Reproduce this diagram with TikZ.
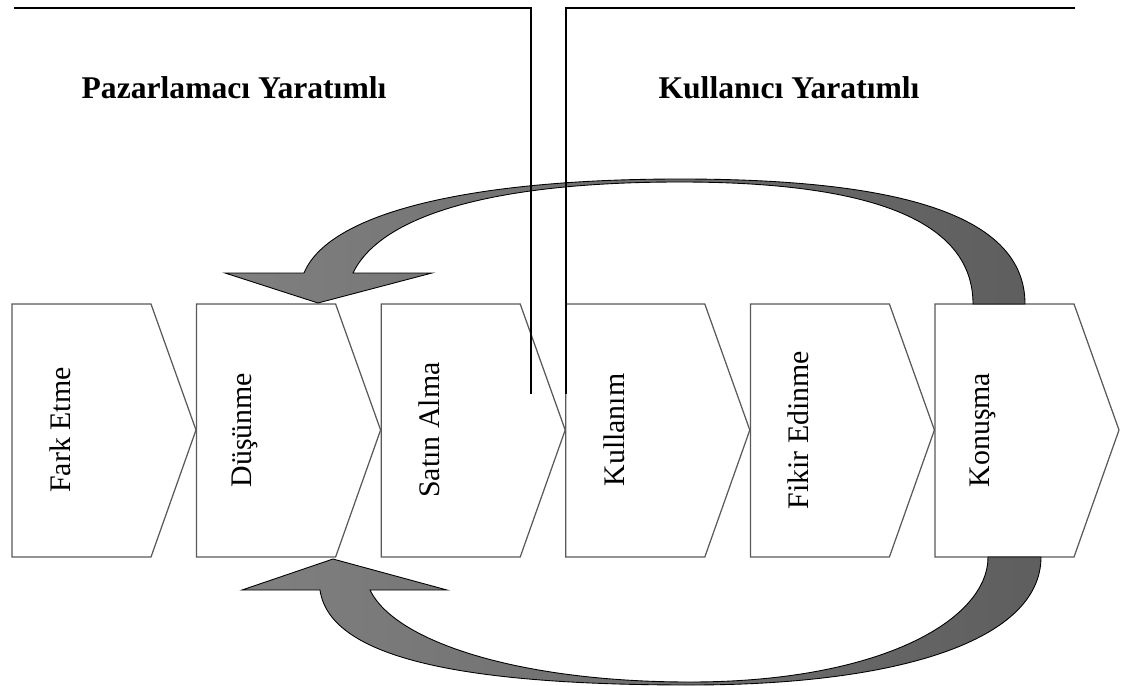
\documentclass[tikz,border=0pt]{standalone}
\usepackage{fontspec}
\setmainfont{Liberation Serif}
\usepackage{tikz}
\usepackage{xcolor}
\usetikzlibrary{arrows.meta}

\begin{document}
\begin{tikzpicture}[
  x=0.02cm, y=-0.02cm,
  stage/.style={draw=black!65, line width=0.7pt, fill=white},
  stagetext/.style={rotate=90, font=\fontsize{17}{17}\selectfont},
  grouptitle/.style={font=\fontsize{18}{18}\selectfont\bfseries},
  bigarrow/.style={draw=black, line width=0.5pt, left color=black!50, right color=black!63},
  bracket/.style={line width=0.85pt, black}
]
\useasboundingbox (0,0) rectangle (1122,686);

%% Stages (chevrons, left to right)
\foreach \i/\name/\txt in {0/fark/Fark Etme, 1/dusunme/Düşünme, 2/satin/Satın Alma,
                           3/kullanim/Kullanım, 4/fikir/Fikir Edinme, 5/konusma/Konuşma} {
  \pgfmathsetmacro\xl{12+184.6*\i}
  \draw[stage] (\xl,304) -- ++(139,0) -- ++(45,126) -- ++(-45,127) -- ++(-139,0) -- cycle;
  \node[stagetext] (\name) at (\xl+48,430) {\txt};
}

%% Feedback arrows (Konuşma back to Düşünme)
% upper one
\draw[bigarrow] (1025,304) .. controls (1025,215) and (900,179) .. (680,179)
  .. controls (480,179) and (330,210) .. (304,273)
  -- (225,273) -- (318,303) -- (432,273) -- (353,273)
  .. controls (382,213) and (500,182) .. (680,182)
  .. controls (870,182) and (973,220) .. (973,304) -- cycle;
% lower one
\draw[bigarrow] (1041,557) .. controls (1041,640) and (900,685) .. (690,685)
  .. controls (470,685) and (330,660) .. (320,590)
  -- (242,590) -- (333,559) -- (447,590) -- (370,590)
  .. controls (395,642) and (520,682) .. (690,682)
  .. controls (880,682) and (988,620) .. (988,557) -- cycle;

%% Group brackets
\coordinate (pazstart) at (14,8);
\coordinate (pazend) at (531,394);
\coordinate (kulstart) at (566,394);
\coordinate (kulend) at (1075,8);
\draw[bracket] (pazstart) -| (pazend);
\draw[bracket] (kulstart) |- (kulend);

%% Group titles
\node[grouptitle] (paztitle) at (234,88) {Pazarlamacı Yaratımlı};
\node[grouptitle] (kultitle) at (789,88) {Kullanıcı Yaratımlı};

\end{tikzpicture}
\end{document}
